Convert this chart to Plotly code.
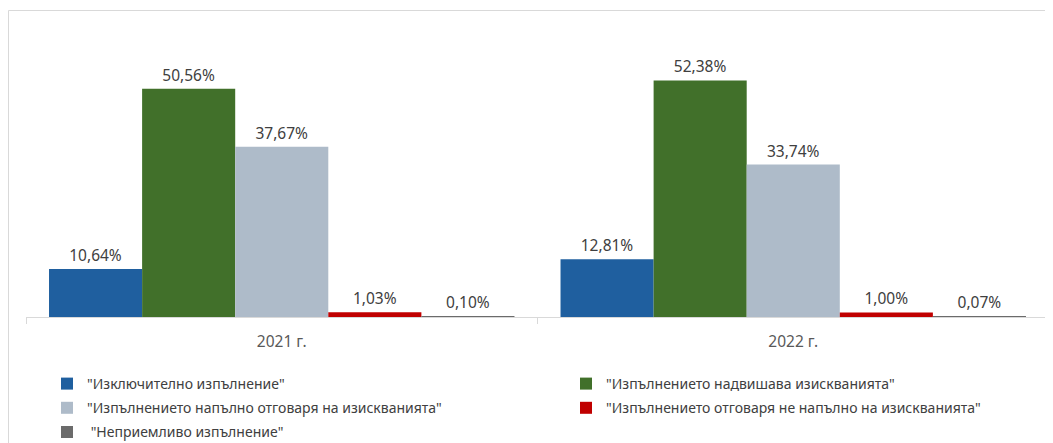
import plotly.graph_objects as go

categories = ["2021 г.", "2022 г."]
series_names = [
    '"Изключително изпълнение"',
    '"Изпълнението надвишава изискванията"',
    '"Изпълнението напълно отговаря на изискванията"',
    '"Изпълнението отговаря не напълно на изискванията"',
    ' "Неприемливо изпълнение"',
]
exceptional = [10.64, 12.81]
exceeds = [50.56, 52.38]
fully_meets = [37.67, 33.74]
partially_meets = [1.03, 1.00]
unacceptable = [0.10, 0.07]

series_values = [exceptional, exceeds, fully_meets, partially_meets, unacceptable]
colors = ["#1f5f9f", "#41702a", "#aebbc9", "#c00000", "#6b6b6b"]
legend_ids = ["legend", "legend2", "legend", "legend2", "legend"]

FONT = "Noto Sans"
fig = go.Figure()
for i, (name, vals, col, lg) in enumerate(zip(series_names, series_values, colors, legend_ids)):
    fig.add_trace(go.Bar(
        x=categories, y=vals, name=name,
        marker=dict(color=col, line=dict(width=0)),
        texttemplate="%{y:.2f}%", textposition="outside",
        textfont=dict(family=FONT, size=15.5, color="#404040"),
        cliponaxis=False, legend=lg, legendgroup=f"g{i}",
    ))

# page has an 8px body margin, so the figure is drawn at (8, 8)
OFF = 8
W, H = 1053 - OFF, 443 - OFF
AXIS_Y = 317 - OFF
ml, mr = 26 - OFF, 4
ph = 271
mt = AXIS_Y - ph
mb = H - AXIS_Y
pw = W - ml - mr

legend_common = dict(
    orientation="v", xanchor="left", yanchor="top",
    y=(AXIS_Y - (368 - OFF)) / ph, traceorder="grouped",
    font=dict(family=FONT, size=14, color="#404040"),
    itemwidth=30, tracegroupgap=3, bgcolor="rgba(0,0,0,0)",
)

fig.update_layout(
    width=W, height=H,
    margin=dict(l=ml, r=mr, t=mt, b=mb, pad=0, autoexpand=False),
    paper_bgcolor="white", plot_bgcolor="white",
    barmode="group", bargap=0.09, bargroupgap=0,
    separators=", ",
    font=dict(family=FONT, color="#404040"),
    showlegend=True,
    legend=dict(legend_common, x=(47 - OFF - ml) / pw),
    legend2=dict(legend_common, x=(566 - OFF - ml) / pw),
    xaxis=dict(
        showline=True, linecolor="#d9d9d9", linewidth=1,
        ticks="outside", tickson="boundaries", ticklen=6, tickcolor="#d9d9d9",
        tickfont=dict(family=FONT, size=15.5, color="#595959"),
        ticklabelstandoff=10,
        showgrid=False,
    ),
    yaxis=dict(range=[0, 60], visible=False, showgrid=False, zeroline=False),
    shapes=[dict(
        type="rect", xref="paper", yref="paper",
        x0=(8 - OFF - ml + 0.5) / pw, x1=(W + 5 - ml) / pw,
        y0=(AXIS_Y - (H + 5)) / ph, y1=(AXIS_Y - (11 - OFF) + 0.5) / ph,
        line=dict(color="#d9d9d9", width=1), fillcolor="rgba(0,0,0,0)",
        layer="below",
    )],
)

fig.write_html("out.html")
